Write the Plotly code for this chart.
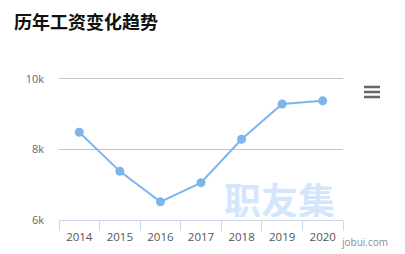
import plotly.graph_objects as go

# Average salary by year
years = ["2014", "2015", "2016", "2017", "2018", "2019", "2020"]
salary = [8490, 7380, 6515, 7060, 8290, 9290, 9380]

y_ticks = [6000, 8000, 10000]
y_tick_text = ["6k", "8k", "10k"]

W, H = 405, 254
L, R, T, B = 59, 62, 77, 34
Y_MAX = 10056  # a little headroom so the 10k gridline is drawn inside the plot

fig = go.Figure()
fig.add_trace(go.Scatter(
    x=years, y=salary, mode="lines+markers",
    line=dict(color="#7cb5ec", width=2),
    marker=dict(color="#7cb5ec", size=9),
    hoverinfo="x+y", showlegend=False,
))

PW, PH = W - L - R, H - T - B

fig.update_layout(
    width=W, height=H,
    margin=dict(l=L, r=R, t=T, b=B, pad=0, autoexpand=False),
    paper_bgcolor="white", plot_bgcolor="white",
    font=dict(family="Open Sans, Noto Sans CJK SC, sans-serif"),
    xaxis=dict(
        type="category", tickson="boundaries",
        showline=True, linecolor="#ccd6eb", linewidth=1,
        ticks="outside", ticklen=10, tickcolor="#ccd6eb", tickwidth=1,
        showgrid=False, zeroline=False, automargin=False,
        tickfont=dict(size=11.5, color="#555555"),
        ticklabelstandoff=6,
        range=[-0.5, 6.5], fixedrange=True,
    ),
    yaxis=dict(
        range=[6000, Y_MAX], tickvals=y_ticks, ticktext=y_tick_text,
        showgrid=True, gridcolor="#c4c4c4", gridwidth=1,
        zeroline=False, showline=False, ticks="", automargin=False,
        tickfont=dict(size=11, color="#666666"),
        ticklabelstandoff=14, fixedrange=True,
    ),
    annotations=[
        dict(text="<b>历年工资变化趋势</b>", xref="paper", yref="paper",
             x=-L / PW, y=1 + (T - 21) / PH,
             xanchor="left", yanchor="middle", showarrow=False,
             xshift=12,
             font=dict(size=18, color="#111111",
                       family="Noto Sans CJK SC, sans-serif")),
        dict(text="<b>职友集</b>", xref="paper", yref="paper",
             x=(279 - L) / PW, y=(H - B - 199) / PH,
             xanchor="center", yanchor="middle", showarrow=False,
             height=36,
             font=dict(size=37, color="#d4e6fb",
                       family="Noto Sans CJK SC, sans-serif")),
        dict(text="jobui.com", xref="paper", yref="paper",
             x=(339 - L) / PW, y=(H - B - 242) / PH,
             xanchor="left", yanchor="middle", showarrow=False,
             font=dict(size=10, color="#8890a0")),
    ],
)

# Export-menu icon (three bars) in the top right
for yy in (87, 92, 97):
    fig.add_shape(type="line", xref="paper", yref="paper",
                  x0=(364 - L) / PW, x1=(380 - L) / PW,
                  y0=(H - B - yy) / PH, y1=(H - B - yy) / PH,
                  line=dict(color="#666666", width=2.5))

fig.write_html("out.html", config={"displayModeBar": False})
